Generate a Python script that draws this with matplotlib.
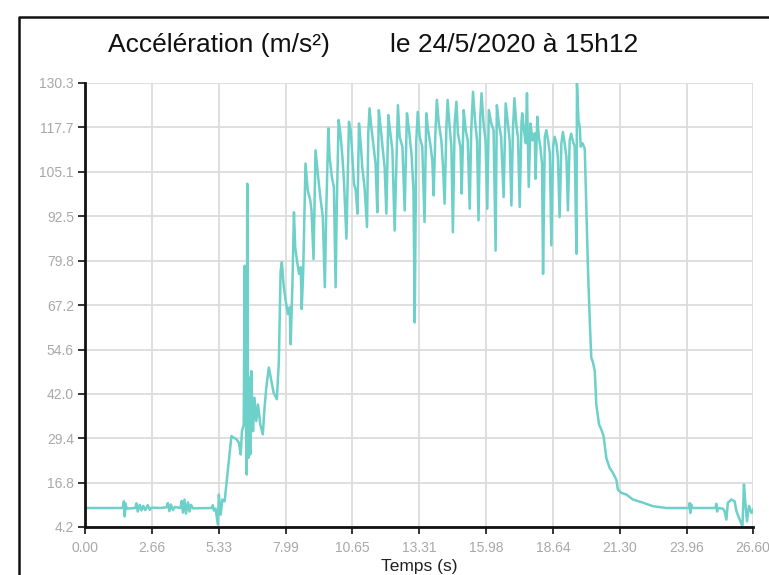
import matplotlib.pyplot as plt
from matplotlib.lines import Line2D

plt.rcParams['font.family'] = ['Liberation Sans', 'DejaVu Sans']

# temps (s) et accélération (m/s²)
temps = [
    0.00, 0.80, 1.50, 1.55, 1.58, 1.62, 1.66, 2.00, 2.05, 2.10, 2.18, 2.25, 2.32, 2.40,
    2.50, 2.58, 2.65, 3.00, 3.25, 3.30, 3.36, 3.42, 3.50, 3.58, 3.80, 3.85, 3.90, 3.96,
    4.02, 4.10, 4.16, 4.22, 4.30, 5.05, 5.09, 5.13, 5.20, 5.29, 5.33, 5.40, 5.47, 5.56,
    5.83, 6.03, 6.13, 6.20, 6.25, 6.32, 6.36, 6.40, 6.44, 6.46, 6.50, 6.54, 6.58, 6.62,
    6.69, 6.75, 6.82, 6.89, 6.98, 7.08, 7.15, 7.22, 7.32, 7.42, 7.51, 7.64, 7.72, 7.79,
    7.84, 7.91, 7.99, 8.08, 8.15, 8.19, 8.26, 8.32, 8.37, 8.44, 8.52, 8.59, 8.63, 8.69,
    8.78, 8.87, 8.97, 9.02, 9.10, 9.18, 9.27, 9.37, 9.47, 9.55, 9.61, 9.69, 9.74, 9.83,
    9.91, 9.98, 10.03, 10.10, 10.17, 10.25, 10.31, 10.41, 10.47, 10.51, 10.58, 10.64,
    10.71, 10.78, 10.85, 10.91, 10.98, 11.04, 11.13, 11.23, 11.28, 11.33, 11.40, 11.49,
    11.57, 11.64, 11.70, 11.77, 11.86, 11.93, 12.00, 12.08, 12.16, 12.24, 12.33, 12.46,
    12.53, 12.64, 12.73, 12.82, 12.90, 13.00, 13.08, 13.13, 13.19, 13.25, 13.33, 13.43,
    13.52, 13.59, 13.66, 13.75, 13.83, 13.88, 13.95, 14.01, 14.09, 14.19, 14.25, 14.32,
    14.39, 14.44, 14.52, 14.59, 14.65, 14.72, 14.79, 14.85, 14.95, 15.00, 15.08, 15.16,
    15.24, 15.32, 15.38, 15.45, 15.53, 15.61, 15.67, 15.74, 15.79, 15.87, 15.95, 16.02,
    16.08, 16.18, 16.27, 16.35, 16.40, 16.48, 16.57, 16.67, 16.75, 16.84, 16.91, 16.98,
    17.04, 17.10, 17.18, 17.24, 17.31, 17.38, 17.41, 17.48, 17.55, 17.60, 17.67, 17.74,
    17.82, 17.91, 17.94, 18.01, 18.07, 18.13, 18.20, 18.24, 18.31, 18.37, 18.44, 18.51,
    18.57, 18.64, 18.70, 18.77, 18.83, 18.90, 18.97, 19.03, 19.10, 19.17, 19.23, 19.30,
    19.36, 19.43, 19.50, 19.57, 19.59, 19.65, 19.70, 19.74, 19.81, 19.90, 19.96, 20.03,
    20.10, 20.16, 20.23, 20.30, 20.36, 20.47, 20.56, 20.65, 20.76, 20.89, 21.02, 21.16,
    21.22, 21.36, 21.56, 21.82, 22.22, 22.62, 23.15, 24.05, 24.08, 24.10, 24.14, 24.18,
    25.10, 25.14, 25.17, 25.20, 25.40, 25.47, 25.54, 25.60, 25.74, 25.87, 25.94, 26.07,
    26.18, 26.24, 26.30, 26.36, 26.44, 26.54, 26.60,
]
accel = [
    9.6, 9.6, 9.6, 11.5, 7.2, 10.8, 9.4, 9.6, 10.9, 8.6, 10.5, 8.9, 10.2, 9.0,
    10.4, 9.1, 9.7, 9.6, 9.8, 11.0, 8.7, 10.6, 9.0, 9.9, 9.6, 11.6, 8.3, 12.0,
    8.0, 11.2, 8.6, 10.5, 9.5, 9.6, 10.4, 8.9, 9.4, 4.9, 13.4, 7.7, 12.0, 11.5,
    30.0, 29.1, 28.1, 24.8, 31.4, 33.3, 78.4, 39.0, 19.1, 101.7, 23.8, 46.6, 24.8, 48.5,
    31.4, 40.9, 34.3, 39.0, 33.3, 30.5, 38.1, 43.8, 49.5, 45.7, 42.4, 40.5, 51.4, 77.0,
    79.4, 72.8, 68.5, 64.7, 66.6, 56.1, 73.2, 93.6, 83.7, 79.9, 76.1, 78.0, 66.1, 77.0,
    107.4, 99.8, 97.0, 94.1, 80.3, 111.2, 104.6, 97.9, 92.2, 72.3, 95.0, 117.4, 109.3, 103.6,
    100.8, 72.3, 97.0, 119.8, 116.0, 109.3, 102.7, 86.1, 106.5, 119.3, 116.9, 110.3,
    101.7, 99.8, 93.2, 118.8, 113.0, 106.5, 100.8, 89.4, 116.0, 123.1, 117.9, 112.2,
    107.4, 93.6, 122.6, 117.9, 111.2, 106.5, 93.2, 121.2, 116.0, 111.2, 88.4, 124.0,
    115.0, 112.2, 94.1, 121.7, 117.0, 110.3, 99.8, 62.3, 113.7, 122.1, 114.9, 112.2,
    90.8, 121.7, 117.0, 113.0, 108.3, 98.4, 115.4, 125.5, 118.8, 114.0, 107.4, 96.0,
    117.4, 125.5, 117.9, 112.2, 87.9, 118.8, 125.0, 115.9, 112.2, 98.9, 122.6, 116.9,
    114.0, 94.6, 116.9, 127.8, 119.8, 114.0, 91.3, 120.7, 127.4, 118.8, 114.0, 94.6,
    122.6, 118.8, 116.9, 82.7, 124.0, 118.8, 115.0, 97.9, 124.5, 118.8, 114.0, 95.5,
    116.9, 126.0, 118.0, 115.0, 95.1, 118.8, 121.7, 116.9, 113.2, 127.4, 100.8, 118.8,
    114.0, 116.0, 103.1, 120.7, 115.0, 112.2, 107.4, 76.1, 115.0, 116.9, 114.0, 110.3,
    84.2, 112.2, 115.0, 113.2, 109.3, 92.2, 113.2, 116.4, 113.2, 109.3, 94.1, 114.0,
    115.9, 113.7, 112.2, 81.8, 130.2, 119.8, 117.9, 112.2, 113.2, 111.7, 96.0, 77.0,
    62.8, 52.3, 50.9, 48.5, 39.0, 33.3, 31.9, 30.0, 23.8, 21.0, 19.6, 17.6,
    14.8, 13.9, 13.4, 12.0, 11.1, 10.1, 9.6, 9.6, 11.0, 8.2, 10.6, 9.6,
    9.6, 10.8, 8.6, 9.6, 9.4, 8.7, 6.3, 11.1, 12.0, 11.5, 8.7, 6.3,
    4.4, 16.3, 10.6, 5.8, 10.2, 8.2, 9.1,
]

yticks = [4.2, 16.8, 29.4, 42.0, 54.6, 67.2, 79.8, 92.5, 105.1, 117.7, 130.3]
xticks = [0.00, 2.66, 5.33, 7.99, 10.65, 13.31, 15.98, 18.64, 21.30, 23.96, 26.60]

W, H = 769, 575
fig = plt.figure(figsize=(W / 100, H / 100), dpi=100)
ax = fig.add_axes([85 / W, (H - 527) / H, (753 - 85) / W, (527 - 83) / H])

ax.plot(temps, accel, color='#6dd0c9', lw=1.8, solid_joinstyle='round')

ax.set_xlim(0, 26.6)
ax.set_ylim(4.2, 130.3)
ax.set_xticks(xticks)
ax.set_xticklabels(['%.2f' % v for v in xticks])
ax.set_yticks(yticks)
ax.set_yticklabels(['%.1f' % v for v in yticks])
ax.grid(True, color='#dcdcdc', lw=1.3)
ax.set_axisbelow(True)

for s in ['top', 'right']:
    ax.spines[s].set_visible(False)
for s in ['left', 'bottom']:
    ax.spines[s].set_linewidth(2)
    ax.spines[s].set_color('#111111')

ax.tick_params(axis='both', length=5, width=1.2, color='#111111',
               labelcolor='#a8a8a8', labelsize=10)
ax.tick_params(axis='x', pad=5)
ax.tick_params(axis='y', pad=3)
ax.set_xlabel('Temps (s)', fontsize=12.5, color='#222222', labelpad=3)

# titre en deux morceaux
fig.text(108 / W, 1 - 45 / H, 'Accélération (m/s²)', fontsize=19,
         va='center', ha='left', color='#111111')
fig.text(390 / W, 1 - 45 / H, 'le 24/5/2020 à 15h12', fontsize=19,
         va='center', ha='left', color='#111111')

# cadre noir de la capture
fig.add_artist(Line2D([19 / W, 19 / W, 1.01], [-0.01, 1 - 17 / H, 1 - 17 / H],
                      transform=fig.transFigure, color='#111111', lw=1.8))

fig.savefig('out.png', dpi=100)
